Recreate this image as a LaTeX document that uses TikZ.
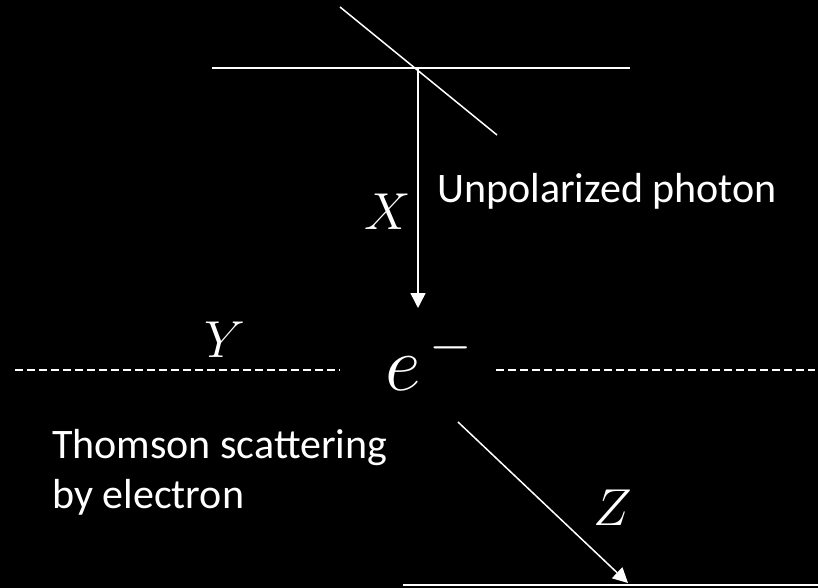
\documentclass[tikz,border=0pt]{standalone}
\usepackage{fix-cm}
\usepackage{fontspec}
\setmainfont{Carlito}
\usetikzlibrary{arrows.meta}
\tikzset{
  ln/.style  = {draw=white, line width=1.5pt},
  ar/.style  = {ln, -{Triangle[length=15pt,width=15pt]}},
  dsh/.style = {draw=white, line width=1.5pt, dash pattern=on 8pt off 4pt},
  txt/.style = {text=white, font=\fontsize{42}{50}\selectfont, inner sep=0pt},
  sym/.style = {text=white, font=\fontsize{52}{60}\selectfont, inner sep=0pt},
}

\begin{document}
\begin{tikzpicture}[x=1pt, y=-1pt]
  \fill[black] (0,0) rectangle (818,588);
  \useasboundingbox (0,0) rectangle (818,588);
  % polarizer and incoming photon
  \coordinate (pl)  at (212,68);
  \coordinate (pr)  at (630,68);
  \coordinate (da)  at (340,7);
  \coordinate (db)  at (497,135);
  \coordinate (src) at (418,68);
  \coordinate (hit) at (418,308);
  \draw[ln] (pl) -- (pr);
  \draw[ln] (da) -- (db);
  \draw[ar] (src) -- (hit);
  \node[sym] (X) at (388,212) {$X$};
  \node[txt, anchor=base west] (unp) at (437,202) {Unpolarized photon};
  % electron and scattering plane
  \node[sym, font=\fontsize{78}{80}\selectfont, anchor=base west] (el) at (385,390) {$e^{\mkern3mu-}$};
  \node[sym] (Y) at (225,340) {$Y$};
  \coordinate (yl) at (15,370);
  \coordinate (yr) at (340,370);
  \coordinate (zl) at (496,370);
  \coordinate (zr) at (815,370);
  \draw[dsh] (yl) -- (yr);
  \draw[dsh] (zl) -- (zr);
  \node[txt, align=left, anchor=base west] (thom) at (52,508) {Thomson scattering\\by electron};
  % scattered photon
  \coordinate (sc)  at (458,422);
  \coordinate (out) at (628,583);
  \coordinate (bl)  at (403,585);
  \coordinate (br)  at (818,585);
  \draw[ln] (bl) -- (br);
  \draw[ar] (sc) -- (out);
  \node[sym] (Z) at (613,508) {$Z$};
\end{tikzpicture}
\end{document}
